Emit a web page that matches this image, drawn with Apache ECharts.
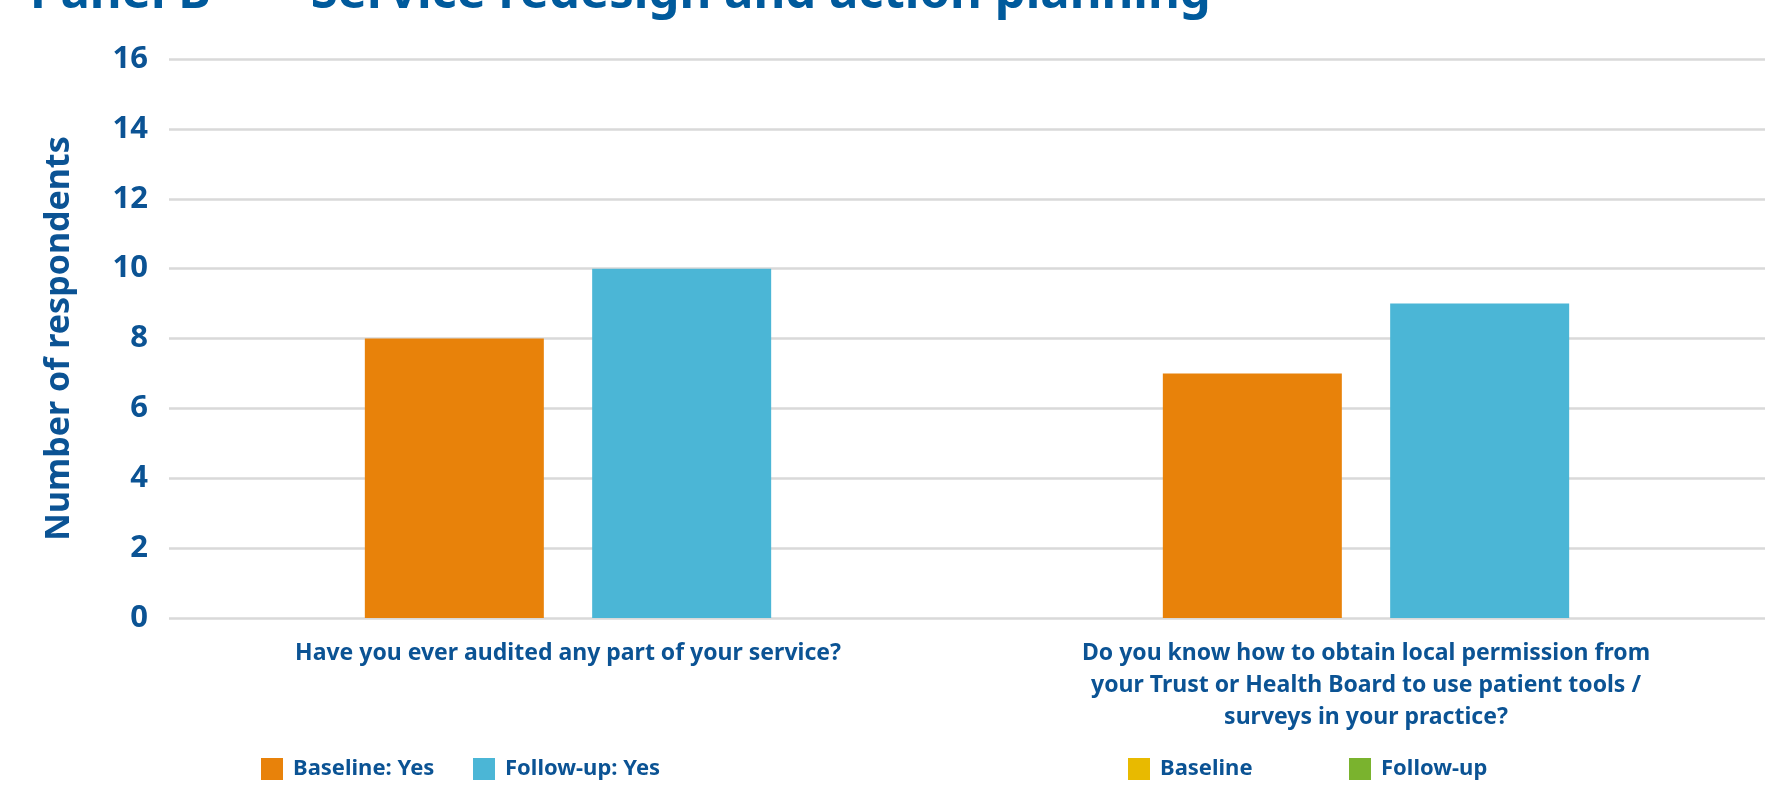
<!DOCTYPE html>
<html>
<head>
<meta charset="utf-8">
<title>Panel B — Service redesign and action planning</title>
<script src="https://cdn.jsdelivr.net/npm/echarts@6/dist/echarts.min.js"></script>
<style>
  html, body { margin: 0; padding: 0; background: #ffffff; }
  #chart { width: 1782px; height: 788px; }
</style>
</head>
<body>
<div id="chart"></div>
<script>
// Survey questions (x-axis categories)
const questions = [
  'Have you ever audited any part of your service?',
  'Do you know how to obtain local permission from\nyour Trust or Health Board to use patient tools /\nsurveys in your practice?'
];

// Number of respondents answering "Yes"
const baselineYes = [8, 7];
const followUpYes = [10, 9];

// Overall baseline / follow-up groups (legend entries only, no bars)
const baselineAll = [];
const followUpAll = [];

const yTicks = { min: 0, max: 16, step: 2 };

const textBlue = '#0B5394';
const gridGrey = '#D9D9D9';
const font = '"Noto Sans", "DejaVu Sans", sans-serif';

const chart = echarts.init(document.getElementById('chart'), null, { renderer: 'canvas' });

function legendAt(name, left, color) {
  return {
    data: [{ name: name, icon: 'rect', itemStyle: { color: color } }],
    left: left,
    top: 758,
    padding: 0,
    itemWidth: 22,
    itemHeight: 22,
    selectedMode: false,
    textStyle: {
      color: textBlue,
      fontFamily: font,
      fontWeight: 'bold',
      fontSize: 22,
      padding: [0, 0, 0, 5]
    }
  };
}

chart.setOption({
  animation: false,
  backgroundColor: '#ffffff',
  graphic: [{
    type: 'text',
    left: 30,
    top: -30,
    style: {
      text: 'Panel B  —  Service redesign and action planning',
      fill: '#005A9C',
      font: 'bold 49px ' + font
    }
  }],
  grid: { left: 169, right: 17, top: 59, bottom: 170, containLabel: false },
  legend: [
    legendAt('Baseline: Yes', 261, '#E8820A'),
    legendAt('Follow-up: Yes', 473, '#4BB6D6'),
    legendAt('Baseline', 1128, '#E8BA00'),
    legendAt('Follow-up', 1349, '#7AB32E')
  ],
  xAxis: [{
    type: 'category',
    data: questions,
    axisLine: { show: false },
    axisTick: { show: false },
    axisLabel: {
      margin: 19,
      interval: 0,
      color: textBlue,
      fontFamily: font,
      fontWeight: 'bold',
      fontSize: 23,
      lineHeight: 32,
      align: 'center'
    }
  }, {
    type: 'category',
    data: questions,
    show: false
  }],
  yAxis: {
    type: 'value',
    min: yTicks.min,
    max: yTicks.max,
    interval: yTicks.step,
    name: 'Number of respondents',
    nameLocation: 'middle',
    nameRotate: 90,
    nameGap: 93,
    nameTextStyle: {
      color: textBlue,
      fontFamily: font,
      fontWeight: 'bold',
      fontSize: 34
    },
    axisLine: { show: false },
    axisTick: { show: false },
    axisLabel: {
      margin: 21,
      color: textBlue,
      fontFamily: font,
      fontWeight: 'bold',
      fontSize: 31
    },
    splitLine: { lineStyle: { color: gridGrey, width: 2.5 } }
  },
  series: [
    {
      name: 'Baseline: Yes',
      type: 'bar',
      data: baselineYes,
      barWidth: 179,
      barGap: '27%',
      itemStyle: { color: '#E8820A' }
    },
    {
      name: 'Follow-up: Yes',
      type: 'bar',
      data: followUpYes,
      barWidth: 179,
      barGap: '27%',
      itemStyle: { color: '#4BB6D6' }
    },
    {
      name: 'Baseline',
      type: 'bar',
      xAxisIndex: 1,
      data: baselineAll,
      itemStyle: { color: '#E8BA00' }
    },
    {
      name: 'Follow-up',
      type: 'bar',
      xAxisIndex: 1,
      data: followUpAll,
      itemStyle: { color: '#7AB32E' }
    }
  ]
});
</script>
</body>
</html>
